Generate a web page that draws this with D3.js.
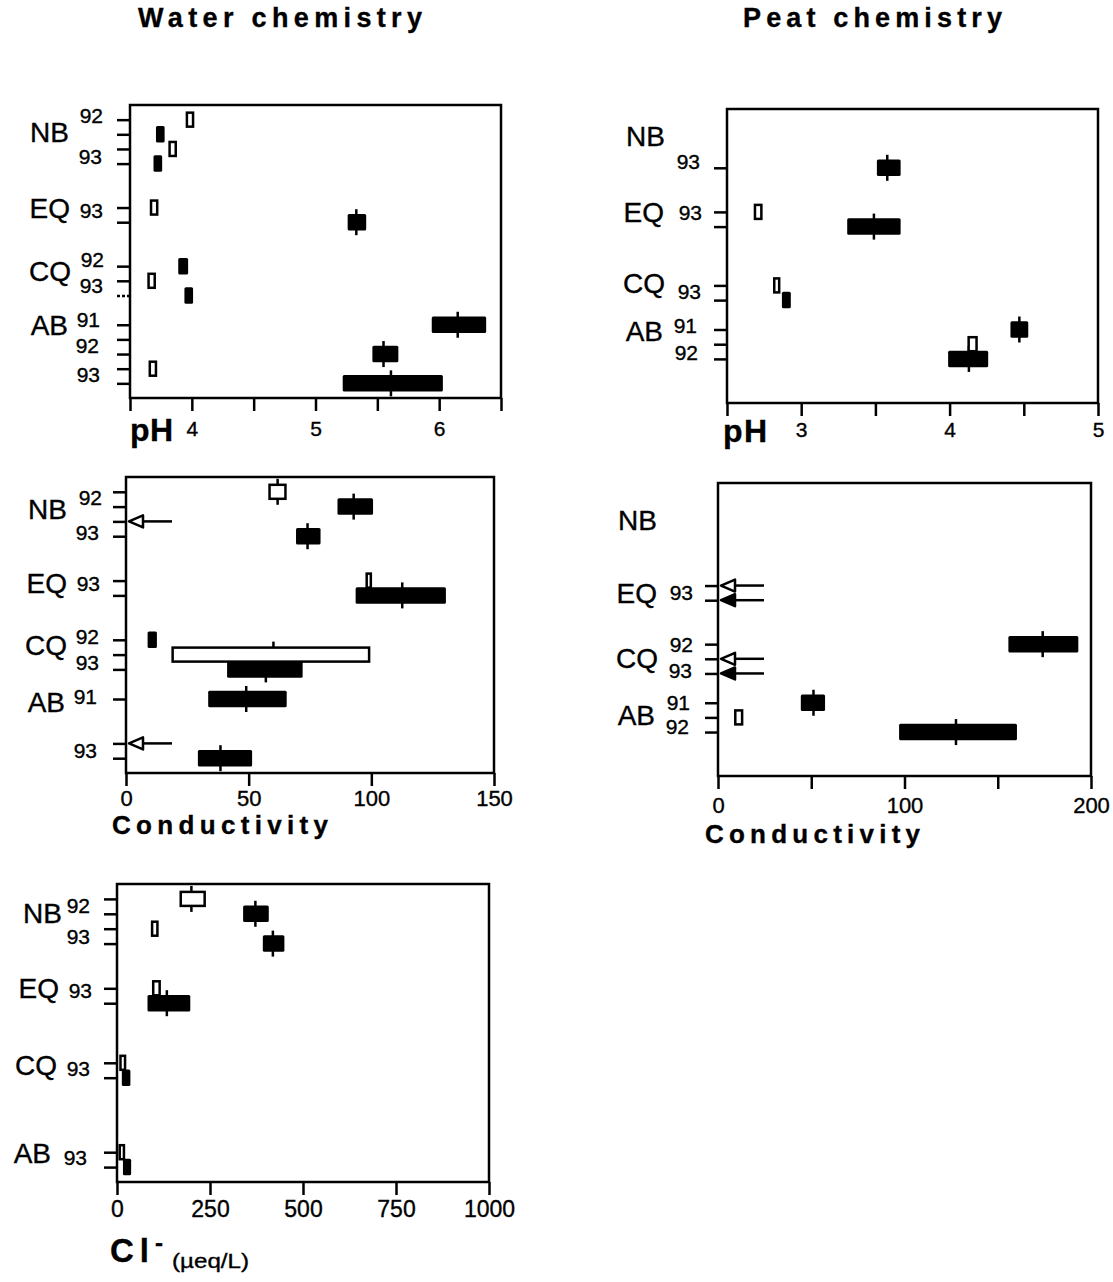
<!DOCTYPE html>
<html>
<head>
<meta charset="utf-8">
<script src="https://cdn.jsdelivr.net/npm/d3@7"></script>
<style>
body{margin:0;background:#fff;}
text{font-family:"Liberation Sans",Arial,Helvetica,sans-serif;fill:#000;stroke:#000;stroke-width:0.35px;}
</style>
</head>
<body>
<div class="canvas"></div>
<script>
// row slots shared by every panel: site + year, o = open box, f = filled box
const rows=["NB92o","NB92f","NB93o","NB93f","gap4","gap5","EQ93o","EQ93f","gap8","gap9",
  "CQ92f","CQ93o","CQ93f","gap13","AB91f","AB92o","AB92f","AB93o","AB93f"];

// [row, low, high, median]
const waterPH=[
  ["NB92o",3.95,4.02],["NB92f",3.71,3.78],["NB93o",3.81,3.88],["NB93f",3.69,3.76],
  ["EQ93o",3.66,3.73],["EQ93f",5.26,5.41,5.33],
  ["CQ92f",3.89,3.97],["CQ93o",3.64,3.71],["CQ93f",3.94,4.01],
  ["AB91f",5.94,6.38,6.15],["AB92f",5.46,5.67,5.55],["AB93o",3.65,3.72],["AB93f",5.22,6.03,5.61]
];
const peatPH=[
  ["NB93f",3.51,3.67,3.58],
  ["EQ93o",2.68,2.74],["EQ93f",3.31,3.67,3.49],
  ["CQ93o",2.81,2.86],["CQ93f",2.87,2.93],
  ["AB91f",4.41,4.53,4.47],["AB92o",4.12,4.19],["AB92f",3.99,4.26,4.13]
];
const waterCond=[
  ["NB92o",58,65.5,61.8],["NB92f",86.2,100.7,92.8],["NB93f",69.3,79.3,74],
  ["EQ93o",97.6,100.3],["EQ93f",93.6,130.4,112.6],
  ["CQ92f",8.8,12.6],["CQ93o",18.5,99.6,60.1],["CQ93f",41.2,72,57],
  ["AB91f",33.5,65.5,49],["AB93f",29.3,51.4,38.5]
];
const peatCond=[
  ["CQ92f",155.7,193.2,174.1],
  ["AB91f",44.4,57.4,51.2],["AB92o",8.6,13.6],["AB92f",97.1,160.3,127.6]
];
const chloride=[
  ["NB92o",168,239,200],["NB92f",339,408,372],["NB93o",91,112],["NB93f",392,450,419],
  ["EQ93o",94,118],["EQ93f",82,197,134],
  ["CQ93o",6,25],["CQ93f",13,36],
  ["AB93o",4,22],["AB93f",16,38]
];

// values below the axis minimum, drawn as arrows
const waterCondBelow=["NB93o","AB93o"];
const peatCondBelow=["EQ93o","EQ93f","CQ93o","CQ93f"];

// rows that carry a tick on the left
const waterPHTicks=["NB92o","NB92f","NB93o","NB93f","EQ93o","EQ93f","CQ92f","CQ93o","CQ93f","AB91f","AB92o","AB92f","AB93o","AB93f"];
const peatPHTicks=["NB93f","EQ93o","EQ93f","CQ93o","CQ93f","AB91f","AB92o","AB92f"];
const waterCondTicks=["NB92o","NB92f","NB93o","NB93f","EQ93o","EQ93f","CQ92f","CQ93o","CQ93f","AB91f","AB93o","AB93f"];
const peatCondTicks=["EQ93o","EQ93f","CQ92f","CQ93o","CQ93f","AB91f","AB92o","AB92f"];
const chlorideTicks=["NB92o","NB92f","NB93o","NB93f","EQ93o","EQ93f","CQ93o","CQ93f","AB93o","AB93f"];

// x tick values and the ones that get a number
const phWaterTicks=[3.5,4,4.5,5,5.5,6,6.5], phWaterLabels=[4,5,6];
const phPeatTicks=[2.5,3,3.5,4,4.5,5], phPeatLabels=[3,4,5];
const condWaterTicks=[0,50,100,150], condWaterLabels=[0,50,100,150];
const condPeatTicks=[0,50,100,150,200], condPeatLabels=[0,100,200];
const clTicks=[0,250,500,750,1000], clLabels=[0,250,500,750,1000];

// site / year labels: [text, slot, x offset from frame]
const waterPHText=[["NB",0.82,-61],["92",-0.3,-27],["93",2.5,-28],["EQ",6.05,-60],["93",6.2,-27],
  ["CQ",10.3,-59],["92",9.55,-26],["93",11.3,-27],["AB",14,-62],["91",13.65,-30],["92",15.4,-31],["93",17.4,-30]];
const peatPHText=[["NB",0.86,-62],["93",2.56,-27],["EQ",5.97,-63],["93",6.07,-25],
  ["CQ",10.8,-62],["93",11.4,-26],["AB",14.1,-64],["91",13.7,-30],["92",15.55,-29]];
const waterCondText=[["NB",1.13,-59],["92",0.4,-24],["93",2.75,-27],["EQ",6.19,-59],["93",6.19,-26],
  ["CQ",10.35,-59],["92",9.8,-27],["93",11.55,-27],["AB",14.17,-61],["91",13.8,-29],["93",17.5,-29]];
const peatCondText=[["NB",1.5,-61],["EQ",6.5,-61],["93",6.5,-25],["CQ",10.96,-60],["92",10.0,-25],
  ["93",11.8,-26],["AB",14.84,-63],["91",14.0,-28],["92",15.65,-29]];
const chlorideText=[["NB",0.97,-55],["92",0.41,-27],["93",2.54,-27],["EQ",6.0,-58],["93",6.12,-25],
  ["CQ",11.16,-60],["93",11.38,-27],["AB",17.05,-66],["93",17.35,-30]];

const panels=[
  {data:waterPH,below:[],ticks:waterPHTicks,text:waterPHText,xDomain:[3.5,6.5],xTicks:phWaterTicks,xLabels:phWaterLabels,
    left:130,right:501,top:105,bottom:398,labelDy:38,labelSize:21,dotted:"CQ93f"},
  {data:peatPH,below:[],ticks:peatPHTicks,text:peatPHText,xDomain:[2.5,5],xTicks:phPeatTicks,xLabels:phPeatLabels,
    left:727,right:1098,top:109,bottom:403,labelDy:34,labelSize:21},
  {data:waterCond,below:waterCondBelow,ticks:waterCondTicks,text:waterCondText,xDomain:[0,150],xTicks:condWaterTicks,xLabels:condWaterLabels,
    left:126,right:494,top:477,bottom:773,labelDy:33,labelSize:22},
  {data:peatCond,below:peatCondBelow,ticks:peatCondTicks,text:peatCondText,xDomain:[0,200],xTicks:condPeatTicks,xLabels:condPeatLabels,
    left:718,right:1091,top:483,bottom:776,labelDy:37,labelSize:22},
  {data:chloride,below:[],ticks:chlorideTicks,text:chlorideText,xDomain:[0,1000],xTicks:clTicks,xLabels:clLabels,
    left:117,right:489,top:884,bottom:1182,labelDy:35,labelSize:23}
];

const svg=d3.select('.canvas')
.append('svg')
.attr('width',1113)
.attr('height',1282);

svg.append('rect').attr('width',1113).attr('height',1282).attr('fill','#fff');

const SW=2.5;

panels.forEach(p=>{
  const x=d3.scaleLinear().domain(p.xDomain).range([p.left,p.right]);
  const y=d3.scaleLinear().domain([-1,19]).range([p.top,p.bottom]);
  const slot=r=>y(rows.indexOf(r));
  const g=svg.append('g');

  // left ticks
  const yAxis=g.append('g')
  .attr('transform',`translate(${p.left},0)`)
  .call(d3.axisLeft(y).tickValues(p.ticks.map(r=>rows.indexOf(r))).tickSize(13).tickFormat(''));
  yAxis.select('.domain').remove();
  yAxis.selectAll('line').attr('stroke','#000').attr('stroke-width',SW)
  .attr('stroke-dasharray',d=>rows[d]===p.dotted?'3,2':null);

  // bottom axis
  const xAxis=g.append('g')
  .attr('transform',`translate(0,${p.bottom})`)
  .call(d3.axisBottom(x).tickValues(p.xTicks).tickSize(13).tickFormat(d=>p.xLabels.includes(d)?d:''));
  xAxis.select('.domain').remove();
  xAxis.attr('font-family',null).attr('font-size',p.labelSize);
  xAxis.selectAll('line').attr('stroke','#000').attr('stroke-width',SW);
  xAxis.selectAll('text').attr('y',p.labelDy).attr('dy',0).attr('fill','#000');

  // frame
  g.append('rect')
  .attr('x',p.left).attr('y',p.top)
  .attr('width',p.right-p.left).attr('height',p.bottom-p.top)
  .attr('fill','none').attr('stroke','#000').attr('stroke-width',SW);

  // median marks go under the boxes
  g.selectAll('line.med')
  .data(p.data.filter(d=>d[3]!==undefined))
  .join('line').attr('class','med')
  .attr('x1',d=>x(d[3])).attr('x2',d=>x(d[3]))
  .attr('y1',d=>slot(d[0])-13).attr('y2',d=>slot(d[0])+13)
  .attr('stroke','#000').attr('stroke-width',SW);

  g.selectAll('rect.box')
  .data(p.data)
  .join('rect').attr('class','box')
  .each(function(d){
    const open=d[0].endsWith('o');
    const r=d3.select(this);
    if(open){
      r.attr('x',x(d[1])+SW/2).attr('width',Math.max(1,x(d[2])-x(d[1])-SW))
      .attr('y',slot(d[0])-7).attr('height',14)
      .attr('fill','#fff').attr('stroke','#000').attr('stroke-width',SW);
    }else{
      r.attr('x',x(d[1])).attr('width',x(d[2])-x(d[1]))
      .attr('y',slot(d[0])-8.25).attr('height',16.5)
      .attr('rx',1.5).attr('fill','#000');
    }
  });

  // arrows for values under the detection limit
  p.below.forEach(r=>{
    const cy=slot(r), x0=x(p.xDomain[0]);
    g.append('line')
    .attr('x1',x0+14).attr('x2',x0+46).attr('y1',cy).attr('y2',cy)
    .attr('stroke','#000').attr('stroke-width',SW);
    g.append('path')
    .attr('d',`M${x0+3},${cy}L${x0+17},${cy-6}L${x0+17},${cy+6}Z`)
    .attr('fill',r.endsWith('o')?'#fff':'#000')
    .attr('stroke','#000').attr('stroke-width',SW).attr('stroke-linejoin','round');
  });

  // site and year labels
  g.selectAll('text.row')
  .data(p.text)
  .join('text').attr('class','row')
  .attr('x',d=>p.left+d[2]).attr('y',d=>y(d[1]))
  .attr('dy','0.36em').attr('text-anchor','end')
  .attr('font-size',d=>/^[A-Z]/.test(d[0])?28:21)
  .text(d=>d[0]);
});

// bold titles, letter-spaced to the width of the original
const bold=(txt,xPos,yPos,size,len)=>svg.append('text')
.attr('x',xPos).attr('y',yPos).attr('font-size',size).attr('font-weight','bold')
.attr('textLength',len).attr('lengthAdjust','spacing').text(txt);

bold('Water chemistry',138,27,27,284);
bold('Peat chemistry',743,27,27,259);
bold('pH',130,441,32,43);
bold('pH',723,442,32,44);
bold('Conductivity',112,834,26,216);
bold('Conductivity',705,843,26,215);

const cl=svg.append('text').attr('x',110).attr('y',1262).attr('font-size',33).attr('font-weight','bold');
cl.append('tspan').text('C');
cl.append('tspan').attr('dx',6).text('l');
svg.append('text').attr('x',159).attr('y',1251).attr('text-anchor','middle')
.attr('font-size',24).attr('font-weight','bold').text('-');
svg.append('text').attr('x',172).attr('y',1268).attr('font-size',20)
.attr('textLength',77).attr('lengthAdjust','spacingAndGlyphs').text('(µeq/L)');
</script>
</body>
</html>
